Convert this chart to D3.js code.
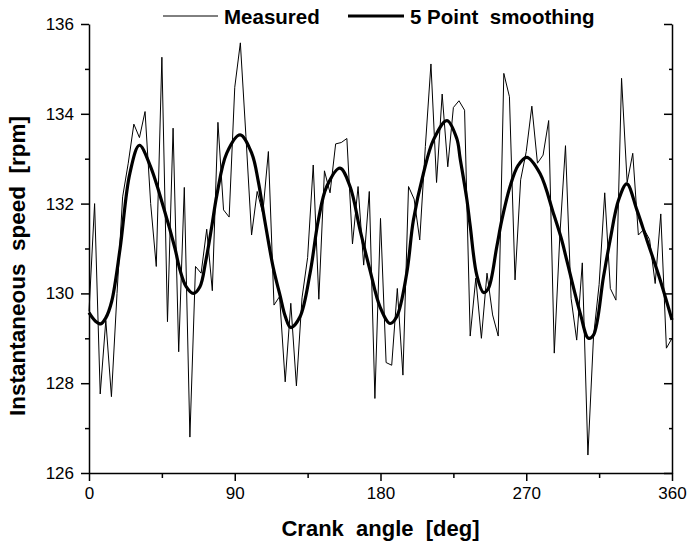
<!DOCTYPE html>
<html>
<head>
<meta charset="utf-8">
<title>Instantaneous speed</title>
<script src="https://cdn.jsdelivr.net/npm/d3@7"></script>
<style>
  body { margin: 0; background: #fff; }
  text { font-family: "Liberation Sans", Arial, sans-serif; fill: #000; }
</style>
</head>
<body>
<svg id="chart"></svg>
<script>
// measured speed, one sample every 360/104 deg
var measured = [129.6, 132.0, 127.76, 129.4, 127.7, 130.0, 132.15, 132.9, 133.77, 133.47,
  134.05, 132.0, 130.6, 135.26, 129.37, 133.68, 128.7, 132.36, 126.8, 130.6,
  130.45, 131.43, 130.06, 133.81, 131.86, 131.7, 134.59, 135.58, 133.49, 131.3,
  132.27, 131.78, 133.16, 129.74, 129.93, 128.03, 129.78, 127.94, 129.9, 130.8,
  132.86, 129.87, 132.73, 132.24, 133.33, 133.36, 133.45, 131.1, 132.38, 130.63,
  132.27, 127.66, 131.67, 128.46, 128.4, 130.11, 128.18, 132.38, 132.1, 131.19,
  133.27, 135.11, 132.47, 134.44, 132.82, 134.14, 134.29, 134.08, 129.05, 130.34,
  129.0, 130.45, 129.52, 129.05, 134.9, 134.38, 130.3, 132.53, 133.16, 134.17,
  132.9, 133.08, 133.85, 128.67, 131.3, 133.29, 129.89, 128.96, 130.68, 126.4,
  129.04, 130.2, 132.24, 130.11, 129.85, 134.79, 132.47, 133.12, 131.3, 131.43,
  131.2, 130.22, 131.77, 128.78, 129.0];
var measuredAngles = measured.map(function(d, i){ return i * 360 / 104; });

// smoothed curve, read at these angles
var smoothAngles = [0, 4, 7.2, 10.3, 14, 19.2, 25.2, 31.1, 37.7, 45.9,
  53.1, 56.2, 60, 64.4, 68.5, 72, 75.8, 79, 85, 93.3,
  100.5, 104.5, 108.5, 113.9, 118, 121.1, 124.6, 130.3, 136.5, 141.6,
  146.8, 155, 161.2, 167.4, 173.5, 179.7, 185.9, 190, 196.2, 200.3,
  206.5, 212.7, 221, 227.1, 229.2, 233.3, 235.4, 239.5, 243.6, 246.6,
  251.8, 254.9, 260, 265, 270.3, 278.5, 286.8, 291.9, 295, 303.3,
  308.4, 311.5, 317.7, 321.8, 327, 332.1, 338.3, 344.5, 352.7, 360];
var smooth = [129.57, 129.38, 129.32, 129.45, 129.82, 131.0, 132.67, 133.3, 132.85, 131.93,
  131.0, 130.52, 130.15, 130.0, 130.15, 130.7, 131.49, 132.2, 133.12, 133.53,
  133.12, 132.5, 131.63, 130.55, 129.95, 129.5, 129.24, 129.48, 130.45, 131.63,
  132.38, 132.79, 132.38, 131.41, 130.52, 129.7, 129.33, 129.48, 130.45, 131.63,
  132.67, 133.42, 133.85, 133.45, 133.0, 132.1, 131.5, 130.4, 130.02, 130.11,
  131.04, 131.63, 132.38, 132.85, 133.03, 132.67, 131.78, 131.19, 130.74, 129.56,
  129.0, 129.07, 130.37, 131.19, 132.08, 132.44, 131.86, 131.19, 130.3, 129.41];

var xMajor = [0, 90, 180, 270, 360];
var xMinor = [45, 135, 225, 315];
var yMajor = [126, 128, 130, 132, 134, 136];
var yMinor = [127, 129, 131, 133, 135];
var legendNames = ["Measured", "5 Point  smoothing"];

var width = 693, height = 554;
var margin = {left: 89, right: 21, top: 24, bottom: 81};

var svg = d3.select("#chart")
    .attr("width", width)
    .attr("height", height);

var x = d3.scaleLinear().domain([0, 360]).range([margin.left, width - margin.right]);
var y = d3.scaleLinear().domain([126, 136]).range([height - margin.bottom, margin.top]);

// axes
function styleAxis(g){
    g.selectAll("path, line").attr("stroke", "#000").attr("stroke-width", 1.5);
    g.selectAll("text").style("font-size", "17px").attr("fill", "#000");
}

svg.append("g")
    .attr("transform", "translate(0," + y(126) + ")")
    .call(d3.axisBottom(x).tickValues(xMajor).tickSize(8).tickSizeOuter(0).tickPadding(6))
    .call(styleAxis);
svg.append("g")
    .attr("transform", "translate(0," + y(126) + ")")
    .call(d3.axisBottom(x).tickValues(xMinor).tickSize(5).tickFormat(""))
    .call(styleAxis)
    .select(".domain").remove();

svg.append("g")
    .attr("transform", "translate(" + x(0) + ",0)")
    .call(d3.axisLeft(y).tickValues(yMajor).tickSize(8).tickSizeOuter(0).tickPadding(7))
    .call(styleAxis);
svg.append("g")
    .attr("transform", "translate(" + x(0) + ",0)")
    .call(d3.axisLeft(y).tickValues(yMinor).tickSize(4).tickFormat(""))
    .call(styleAxis)
    .select(".domain").remove();

// right axis, ticks pointing inward
svg.append("g")
    .attr("transform", "translate(" + x(360) + ",0)")
    .call(d3.axisLeft(y).tickValues(yMajor).tickSizeInner(8).tickSizeOuter(0).tickFormat(""))
    .call(styleAxis)
    .selectAll(".tick line").attr("x2", -8);
svg.append("g")
    .attr("transform", "translate(" + x(360) + ",0)")
    .call(d3.axisLeft(y).tickValues(yMinor).tickSize(3).tickFormat(""))
    .call(styleAxis)
    .select(".domain").remove();

// lines
var lineMeasured = d3.line()
    .x(function(d, i){ return x(measuredAngles[i]); })
    .y(function(d){ return y(d); });

var lineSmooth = d3.line()
    .x(function(d, i){ return x(smoothAngles[i]); })
    .y(function(d){ return y(d); })
    .curve(d3.curveCatmullRom.alpha(0.5));

svg.append("path")
    .datum(measured)
    .attr("d", lineMeasured)
    .attr("fill", "none")
    .attr("stroke", "#000")
    .attr("stroke-width", 1);

svg.append("path")
    .datum(smooth)
    .attr("d", lineSmooth)
    .attr("fill", "none")
    .attr("stroke", "#000")
    .attr("stroke-width", 3.2)
    .attr("stroke-linejoin", "round");

// legend
var legend = [
    {name: legendNames[0], x1: 163, x2: 218, tx: 224, w: 1},
    {name: legendNames[1], x1: 348, x2: 404, tx: 410, w: 3.2}
];
legend.forEach(function(l){
    svg.append("line")
        .attr("x1", l.x1).attr("x2", l.x2)
        .attr("y1", 16).attr("y2", 16)
        .attr("stroke", "#000").attr("stroke-width", l.w);
    svg.append("text")
        .attr("x", l.tx).attr("y", 23.5)
        .style("font-size", "20.5px")
        .style("font-weight", "bold")
        .style("white-space", "pre")
        .text(l.name);
});

// titles
svg.append("text")
    .attr("x", (x(0) + x(360)) / 2)
    .attr("y", 536)
    .attr("text-anchor", "middle")
    .style("font-size", "22px")
    .style("font-weight", "bold")
    .style("white-space", "pre")
    .text("Crank  angle  [deg]");

svg.append("text")
    .attr("transform", "translate(25,266) rotate(-90)")
    .attr("text-anchor", "middle")
    .style("font-size", "22.5px")
    .style("font-weight", "bold")
    .style("white-space", "pre")
    .text("Instantaneous  speed  [rpm]");
</script>
</body>
</html>
